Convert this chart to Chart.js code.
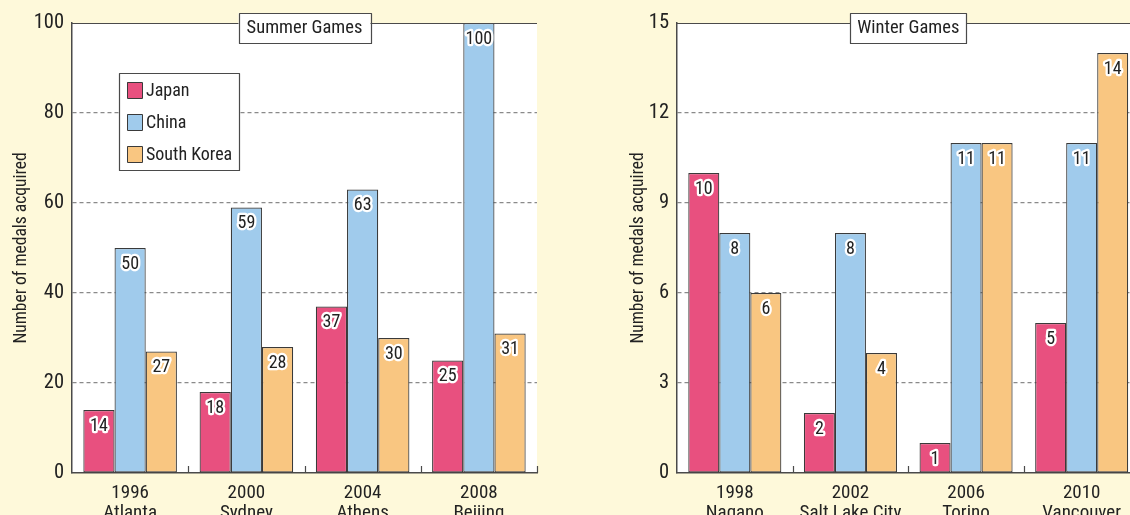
<!DOCTYPE html>
<html>
<head>
<meta charset="utf-8">
<script src="https://cdn.jsdelivr.net/npm/chart.js@4.4.1/dist/chart.umd.min.js"></script>
<style>
html,body{margin:0;padding:0;overflow:hidden;background:#FEF9DA;}
#wrap{position:relative;width:1130px;height:515px;overflow:hidden;background:#FEF9DA;}
#c1{position:absolute;left:0;top:0;}
#c2{position:absolute;left:590px;top:0;}
</style>
</head>
<body>
<div id="wrap">
<canvas id="c1" width="560" height="515"></canvas>
<canvas id="c2" width="560" height="515"></canvas>
</div>
<script>
// ---- data ----
const seriesNames = ["Japan", "China", "South Korea"];
const summerCategories = [["1996","Atlanta"],["2000","Sydney"],["2004","Athens"],["2008","Beijing"]];
const summerJapan = [14, 18, 37, 25];
const summerChina = [50, 59, 63, 100];
const summerKorea = [27, 28, 30, 31];
const winterCategories = [["1998","Nagano"],["2002","Salt Lake City"],["2006","Torino"],["2010","Vancouver"]];
const winterJapan = [10, 2, 1, 5];
const winterChina = [8, 8, 11, 11];
const winterKorea = [6, 4, 11, 14];
const summerTicks = [0, 20, 40, 60, 80, 100];
const winterTicks = [0, 3, 6, 9, 12, 15];
const summerTitle = "Summer Games";
const winterTitle = "Winter Games";
const yAxisTitle = "Number of medals acquired";

// ---- styles ----
const FONT = '"Liberation Sans Narrow", "Roboto Condensed", "Arial Narrow", Roboto, sans-serif';
const colors = ["#E8507F", "#A0CBEC", "#F9C681"];
const edge = "#3a3a3a";
const axisColor = "#4a4a4a";
const textColor = "#222";

function makeDatasets(vals){
  return vals.map((v,i)=>({
    label: seriesNames[i],
    data: v,
    backgroundColor: colors[i],
    borderColor: edge,
    borderWidth: 1.2,
    borderSkipped: false,
    categoryPercentage: 0.805,
    barPercentage: 1.0
  }));
}

const decor = {
  id: 'decor',
  beforeDraw(chart){
    const {ctx, chartArea:a} = chart;
    ctx.save();
    ctx.fillStyle = '#fff';
    ctx.fillRect(a.left, a.top, a.right - a.left, a.bottom - a.top);
    ctx.restore();
  },
  afterDatasetsDraw(chart, args, opts){
    const {ctx, chartArea:a} = chart;
    const xs = chart.scales.x;
    ctx.save();
    // top line
    ctx.strokeStyle = axisColor; ctx.lineWidth = 1.2;
    ctx.beginPath(); ctx.moveTo(a.left, a.top + 0.5); ctx.lineTo(a.right, a.top + 0.5); ctx.stroke();
    // boundary ticks on x axis
    const n = chart.data.labels.length;
    const bounds = [];
    for (let i = 0; i < n - 1; i++) bounds.push((xs.getPixelForValue(i) + xs.getPixelForValue(i+1)) / 2);
    bounds.push(a.right);
    ctx.beginPath();
    bounds.forEach(b=>{ ctx.moveTo(Math.round(b)+0.5, a.bottom); ctx.lineTo(Math.round(b)+0.5, a.bottom - 7); });
    ctx.stroke();
    // value labels
    ctx.font = '18px ' + FONT;
    ctx.textAlign = 'center'; ctx.textBaseline = 'middle';
    ctx.lineJoin = 'round';
    chart.data.datasets.forEach((ds, di)=>{
      const meta = chart.getDatasetMeta(di);
      meta.data.forEach((el, j)=>{
        const t = String(ds.data[j]);
        const y = el.y + 16;
        ctx.strokeStyle = '#fff'; ctx.lineWidth = 4.5;
        ctx.strokeText(t, el.x, y);
        ctx.fillStyle = textColor;
        ctx.fillText(t, el.x, y);
      });
    });
    // title box
    const cx = (a.left + a.right) / 2;
    ctx.font = '18.5px ' + FONT;
    const bw = opts.boxW, bh = 30;
    ctx.fillStyle = '#fff';
    ctx.fillRect(cx - bw/2, a.top - 10, bw, bh);
    ctx.strokeStyle = axisColor; ctx.lineWidth = 1.2;
    ctx.strokeRect(Math.round(cx - bw/2)+0.5, a.top - 10 + 0.5, bw, bh);
    ctx.fillStyle = textColor;
    ctx.fillText(opts.title, cx, a.top + 5.5);
    // legend
    if (opts.legend){
      const lx = a.left + 47, ly = a.top + 50, lw = 120, lh = 97;
      ctx.fillStyle = '#fff';
      ctx.fillRect(lx, ly, lw, lh);
      ctx.strokeRect(lx + 0.5, ly + 0.5, lw, lh);
      ctx.textAlign = 'left';
      ctx.font = '18px ' + FONT;
      chart.data.datasets.forEach((ds, i)=>{
        const sy = ly + 9 + i * 32;
        ctx.fillStyle = ds.backgroundColor;
        ctx.fillRect(lx + 8, sy, 15, 16);
        ctx.strokeStyle = edge; ctx.lineWidth = 1;
        ctx.strokeRect(lx + 8.5, sy + 0.5, 15, 16);
        ctx.fillStyle = textColor;
        ctx.fillText(ds.label, lx + 27, sy + 9);
      });
    }
    ctx.restore();
  }
};

function makeChart(id, labels, vals, ticks, title, boxW, legend, padLeft, padRight, yWidth){
  const maxV = ticks[ticks.length-1];
  const step = ticks[1] - ticks[0];
  return new Chart(document.getElementById(id), {
    type: 'bar',
    data: { labels: labels, datasets: makeDatasets(vals) },
    plugins: [decor],
    options: {
      responsive: false,
      animation: false,
      devicePixelRatio: 1,
      layout: { padding: { top: 23, left: padLeft, right: padRight, bottom: 0 } },
      plugins: {
        legend: { display: false },
        tooltip: { enabled: false },
        decor: { title: title, boxW: boxW, legend: legend }
      },
      scales: {
        x: {
          grid: { display: false },
          border: { display: true, color: axisColor, width: 1.5 },
          ticks: { color: textColor, font: { family: FONT, size: 19, lineHeight: 1.05 }, padding: 2, maxRotation: 0, autoSkip: false },
          afterFit(s){ s.height = 42; }
        },
        y: {
          min: 0, max: maxV,
          ticks: { stepSize: step, color: textColor, font: { family: FONT, size: 20.5 }, padding: 8 },
          grid: {
            drawTicks: false,
            color: c => (c.tick.value === 0 || c.tick.value === maxV) ? 'rgba(0,0,0,0)' : '#8a8a8a',
            lineWidth: 1.2
          },
          border: { display: true, color: axisColor, width: 1.5, dash: [4,3], dashOffset: 0 },
          title: { display: true, text: yAxisTitle, color: textColor, font: { family: FONT, size: 17.5, lineHeight: 1.2 }, padding: { top: 11, bottom: 0 } },
          afterFit(s){ s.width = yWidth; }
        }
      }
    }
  });
}

makeChart('c1', summerCategories, [summerJapan, summerChina, summerKorea], summerTicks, summerTitle, 132, true, 0, 23, 72);
makeChart('c2', winterCategories, [winterJapan, winterChina, winterKorea], winterTicks, winterTitle, 116, false, 27.4, 10.5, 59.6);
</script>
</body>
</html>
